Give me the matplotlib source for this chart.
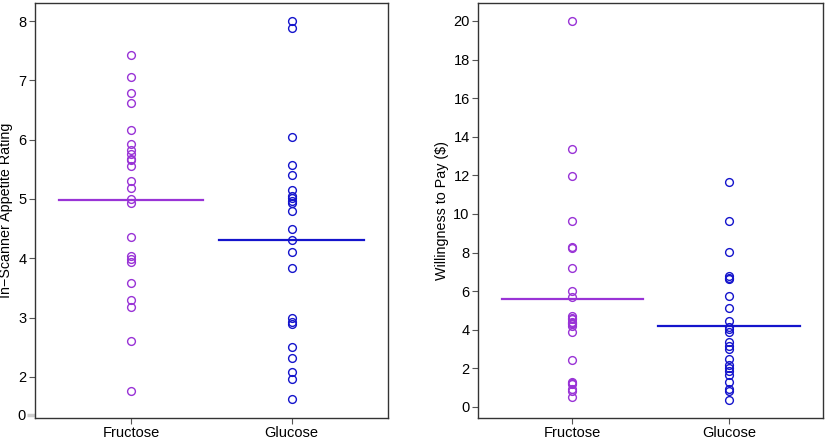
import numpy as np
import matplotlib
matplotlib.use("Agg")
import matplotlib.pyplot as plt

plt.rcParams['font.family'] = ['Liberation Sans', 'DejaVu Sans']

groups = ["Fructose", "Glucose"]
colors = ["#9933d6", "#1414cc"]

# in-scanner appetite ratings (left panel)
appetite_fru = [7.42, 7.06, 6.78, 6.61, 6.17, 5.92, 5.82, 5.76, 5.67, 5.65, 5.56, 5.31,
                5.19, 5.00, 4.93, 4.36, 4.03, 3.98, 3.94, 3.58, 3.29, 3.17, 2.61, 1.76]
appetite_glu = [8.00, 7.89, 6.04, 5.58, 5.40, 5.15, 5.05, 5.01, 4.97, 4.93, 4.79, 4.50,
                4.30, 4.11, 3.83, 3.00, 2.93, 2.89, 2.50, 2.31, 2.08, 1.97, 1.62]
appetite_means = [4.98, 4.30]

# willingness to pay in dollars (right panel)
wtp_fru = [20.0, 13.35, 11.98, 9.64, 8.29, 8.24, 7.22, 6.01, 5.70, 4.70, 4.62, 4.58,
           4.40, 4.34, 4.28, 4.20, 3.90, 2.45, 1.30, 1.25, 1.21, 0.95, 0.81, 0.52]
wtp_glu = [11.67, 9.64, 8.05, 6.79, 6.70, 6.62, 5.74, 5.13, 4.44, 4.16, 4.03, 3.90,
           3.38, 3.16, 2.99, 2.50, 2.18, 2.00, 1.88, 1.66, 1.31, 0.95, 0.84, 0.38]
wtp_means = [5.62, 4.18]

appetite_ticks = [2, 3, 4, 5, 6, 7, 8]
wtp_ticks = [0, 2, 4, 6, 8, 10, 12, 14, 16, 18, 20]


def strip_panel(ax, series, means, ylabel, label_x):
    for i, (vals, m) in enumerate(zip(series, means)):
        x = i + 1
        ax.plot([x] * len(vals), vals, linestyle="none", marker="o", markersize=5.6,
                markerfacecolor="none", markeredgecolor=colors[i], markeredgewidth=1.0)
        ax.plot([x - 0.45, x + 0.45], [m, m], color=colors[i], linewidth=1.6)
    ax.set_xlim(0.4, 2.6)
    ax.set_xticks([1, 2])
    ax.set_xticklabels(groups, fontsize=10.5)
    ax.set_ylabel(ylabel, fontsize=10.3)
    # label_x is the right edge of the rotated label, in axes fraction
    ax.yaxis.set_label_coords(label_x, 0.5)
    for sp in ax.spines.values():
        sp.set_color("#333333")
        sp.set_linewidth(1.0)
    ax.tick_params(axis="both", direction="out", length=4, width=0.8,
                   color="#555555", labelsize=10.5, pad=2)


fig = plt.figure(figsize=(8.27, 4.40), dpi=100)
ax1 = fig.add_axes([0.0423, 0.05, 0.4268, 0.9425])
ax2 = fig.add_axes([0.578, 0.05, 0.4172, 0.9432])

strip_panel(ax1, [appetite_fru, appetite_glu], appetite_means,
            "In\u2212Scanner Appetite Rating", -0.063)
ax1.set_ylim(1.305, 8.30)
ax1.set_yticks(appetite_ticks)
ax1.set_yticklabels([str(t) for t in appetite_ticks])
# broken axis: zero shown just below the break
ax1.set_yticks([1.36], minor=True)
ax1.set_yticklabels(["0"], minor=True)
ax1.tick_params(axis="y", which="minor", length=6, width=2.5, color="#cccccc",
                labelsize=10.5, pad=1)

strip_panel(ax2, [wtp_fru, wtp_glu], wtp_means, r"Willingness to Pay (\$)", -0.084)
ax2.set_ylim(-0.57, 20.93)
ax2.set_yticks(wtp_ticks)
ax2.set_yticklabels([str(t) for t in wtp_ticks])

fig.savefig("out.png", dpi=100)
